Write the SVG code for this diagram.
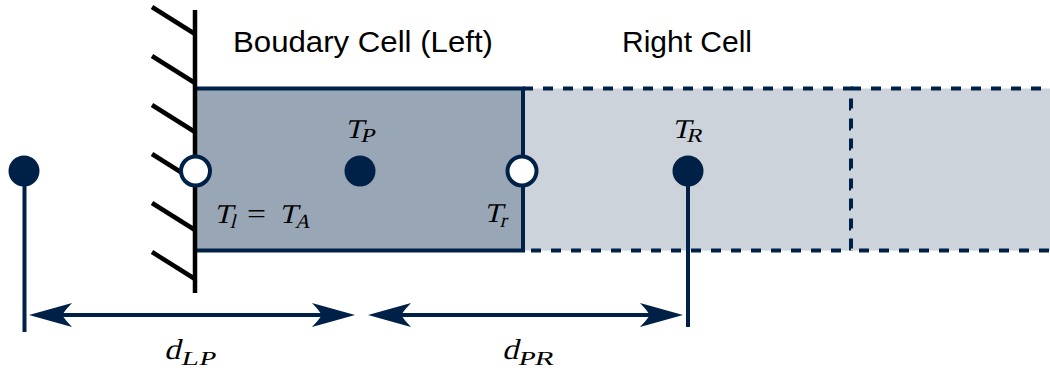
<svg xmlns="http://www.w3.org/2000/svg" width="1050" height="372" viewBox="0 0 1050 372">
<style>
.cellL{fill:#ccd3da;stroke:#002147;stroke-width:4;stroke-dasharray:10 10;}
.cellD{fill:#99a6b5;stroke:#002147;stroke-width:4;}
.hatch{stroke:#000;stroke-width:4.5;stroke-linecap:butt;}
.open{fill:#fff;stroke:#002147;stroke-width:4;}
.dot{fill:#002147;}
.conn{stroke:#002147;stroke-width:4;fill:none;}
.sans{font-family:"Liberation Sans",Arial,sans-serif;font-size:29px;fill:#000;}
.math{font-family:"Liberation Serif","Times New Roman",serif;fill:#000;}
.big{font-size:27px;}
.sub{font-size:20px;}
</style>
<defs>
<marker id="head" markerUnits="userSpaceOnUse" orient="auto-start-reverse" refX="0" refY="0" markerWidth="50" markerHeight="30" overflow="visible">
<path d="M33,0 L-10,-12 Q-4,-6 0,0 Q-4,6 -10,12 Z" fill="#002147"/>
</marker>
</defs>
<g id="right-cell">
<path class="cellL" d="M523,88.5 H851 V250.5 H523 Z"/>
</g>
<g id="far-cell">
<path class="cellL" d="M851,88.5 H1179 V250.5 H851 Z"/>
</g>
<g id="boundary-cell">
<rect class="cellD" x="195" y="88.5" width="328" height="162"/>
</g>
<g id="wall">
<line class="hatch" x1="195" y1="10" x2="195" y2="293" stroke-width="5"/>
<line class="hatch" x1="152" y1="7" x2="195" y2="34"/>
<line class="hatch" x1="152" y1="56" x2="195" y2="83"/>
<line class="hatch" x1="152" y1="105" x2="195" y2="132"/>
<line class="hatch" x1="152" y1="154" x2="195" y2="181"/>
<line class="hatch" x1="152" y1="203" x2="195" y2="230"/>
<line class="hatch" x1="152" y1="252" x2="195" y2="279"/>
</g>
<g id="connectors">
<line class="conn" x1="24.5" y1="171" x2="24.5" y2="332"/>
<line class="conn" x1="688" y1="171" x2="688" y2="327"/>
<line class="conn" x1="62" y1="315" x2="322" y2="315" marker-start="url(#head)" marker-end="url(#head)"/>
<line class="conn" x1="401" y1="315" x2="650" y2="315" marker-start="url(#head)" marker-end="url(#head)"/>
</g>
<g id="ghost-left">
<circle class="dot" cx="24" cy="171" r="15.5"/>
</g>
<g id="face-left">
<circle class="open" cx="195.5" cy="171" r="14.5"/>
</g>
<g id="center-P">
<circle class="dot" cx="360" cy="171" r="15.5"/>
</g>
<g id="face-right">
<circle class="open" cx="522" cy="171" r="14.5"/>
</g>
<g id="center-R">
<circle class="dot" cx="688" cy="171" r="15.5"/>
</g>
<g id="labels">
<text class="sans" x="233" y="52" textLength="260" lengthAdjust="spacingAndGlyphs">Boudary Cell (Left)</text>
<text class="sans" x="622" y="52" textLength="130" lengthAdjust="spacingAndGlyphs">Right Cell</text>
<g transform="translate(345,138) skewX(-14)"><text class="math big" x="0" y="0" textLength="18" lengthAdjust="spacingAndGlyphs">T</text><text class="math sub" x="16" y="4" textLength="14" lengthAdjust="spacingAndGlyphs">P</text></g>
<g transform="translate(672,138) skewX(-14)"><text class="math big" x="0" y="0" textLength="18" lengthAdjust="spacingAndGlyphs">T</text><text class="math sub" x="15" y="4" textLength="16" lengthAdjust="spacingAndGlyphs">R</text></g>
<g transform="translate(214,223) skewX(-14)"><text class="math big" x="0" y="0" textLength="18" lengthAdjust="spacingAndGlyphs">T</text><text class="math sub" x="17" y="5">l</text></g>
<text class="math big" x="247" y="223" textLength="19" lengthAdjust="spacingAndGlyphs">=</text>
<g transform="translate(279,223) skewX(-14)"><text class="math big" x="0" y="0" textLength="18" lengthAdjust="spacingAndGlyphs">T</text><text class="math sub" x="17" y="5" textLength="15" lengthAdjust="spacingAndGlyphs">A</text></g>
<g transform="translate(484,222) skewX(-14)"><text class="math big" x="0" y="0" textLength="18" lengthAdjust="spacingAndGlyphs">T</text><text class="math sub" x="17" y="5">r</text></g>
<g transform="translate(164,359) skewX(-14)"><text class="math" x="0" y="0" font-size="29" textLength="16" lengthAdjust="spacingAndGlyphs">d</text><text class="math sub" x="18" y="6" textLength="34" lengthAdjust="spacingAndGlyphs">LP</text></g>
<g transform="translate(502,359) skewX(-14)"><text class="math" x="0" y="0" font-size="29" textLength="16" lengthAdjust="spacingAndGlyphs">d</text><text class="math sub" x="17" y="6" textLength="36" lengthAdjust="spacingAndGlyphs">PR</text></g>
</g>
</svg>
